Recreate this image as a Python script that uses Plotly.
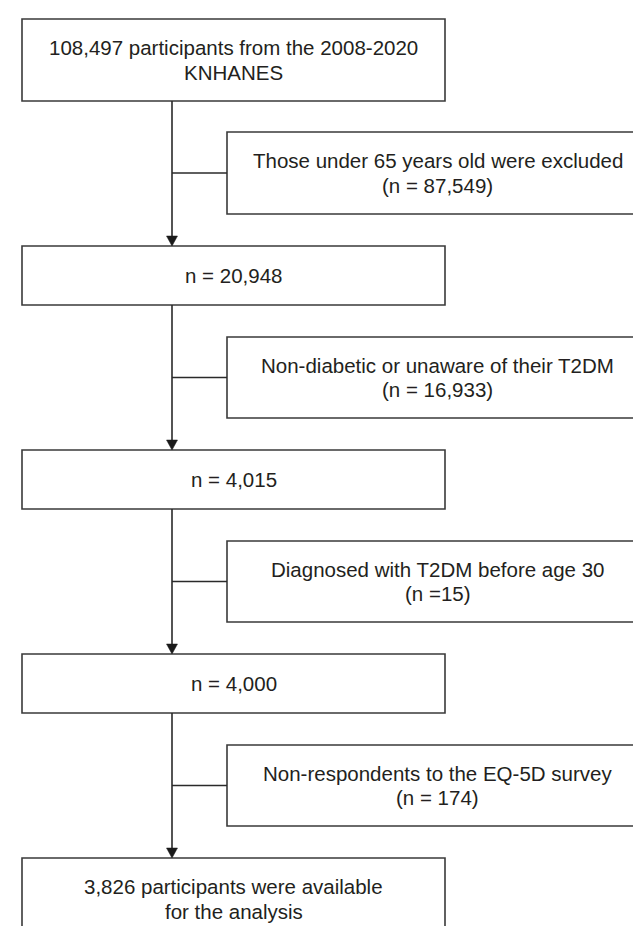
import plotly.graph_objects as go

# ---- chart content (flow of participants) ----
main_labels = [
    "108,497 participants from the 2008-2020\nKNHANES",
    "n = 20,948",
    "n = 4,015",
    "n = 4,000",
    "3,826 participants were available\nfor the analysis",
]
excluded_labels = [
    "Those under 65 years old were excluded\n(n = 87,549)",
    "Non-diabetic or unaware of their T2DM\n(n = 16,933)",
    "Diagnosed with T2DM before age 30\n(n =15)",
    "Non-respondents to the EQ-5D survey\n(n = 174)",
]

# ---- geometry / style (pixel space of the 641x926 canvas) ----
W, H = 641, 926
LEFT_X = (14, 437)
RIGHT_X = (219, 640)
SPINE_X = 164
LEFT_Y = [(11, 93), (238, 297), (442, 501), (646, 705), (850, 990)]
RIGHT_Y = [(124, 206), (329, 410), (533, 614), (737, 818)]
LINE_GAP = 24.5
FONT = dict(family="Liberation Sans, Arial, sans-serif", size=20.5, color="#231f20")
BOX_LINE = dict(color="#3a3a3a", width=1.6)
CONN_LINE = dict(color="#2a2a2a", width=1.6)
ARROW_W, ARROW_H = 5.5, 10

fig = go.Figure()
shapes = []
annotations = []


def add_text(lines, cx, cy):
    n = len(lines)
    for i, t in enumerate(lines):
        y = cy + (i - (n - 1) / 2) * LINE_GAP
        annotations.append(dict(
            x=cx, y=y, xref="x", yref="y", text=t, showarrow=False,
            xanchor="center", yanchor="middle", font=FONT,
        ))


# main boxes
for i, label in enumerate(main_labels):
    y0, y1 = LEFT_Y[i]
    shapes.append(dict(type="rect", xref="x", yref="y", x0=LEFT_X[0], x1=LEFT_X[1],
                       y0=y0, y1=y1, line=BOX_LINE, fillcolor="white", layer="above"))
    if i == len(main_labels) - 1:
        cy = y0 + 41
    else:
        cy = (y0 + y1) / 2
    add_text(label.split("\n"), (LEFT_X[0] + LEFT_X[1]) / 2, cy)

# exclusion boxes
for i, label in enumerate(excluded_labels):
    y0, y1 = RIGHT_Y[i]
    shapes.append(dict(type="rect", xref="x", yref="y", x0=RIGHT_X[0], x1=RIGHT_X[1],
                       y0=y0, y1=y1, line=BOX_LINE, fillcolor="white", layer="above"))
    cy = (y0 + y1) / 2
    add_text(label.split("\n"), (RIGHT_X[0] + RIGHT_X[1]) / 2, cy)
    # horizontal connector from spine
    shapes.append(dict(type="line", xref="x", yref="y", x0=SPINE_X, x1=RIGHT_X[0],
                       y0=cy, y1=cy, line=CONN_LINE))

# vertical spine segments with arrowheads
for i in range(len(main_labels) - 1):
    top = LEFT_Y[i][1]
    bot = LEFT_Y[i + 1][0]
    shapes.append(dict(type="line", xref="x", yref="y", x0=SPINE_X, x1=SPINE_X,
                       y0=top, y1=bot - ARROW_H + 1, line=CONN_LINE))
    path = (f"M {SPINE_X - ARROW_W},{bot - ARROW_H} L {SPINE_X + ARROW_W},{bot - ARROW_H} "
            f"L {SPINE_X},{bot} Z")
    shapes.append(dict(type="path", xref="x", yref="y", path=path,
                       fillcolor="#1a1a1a", line=dict(color="#1a1a1a", width=0.5)))

fig.update_layout(
    width=W, height=H,
    margin=dict(l=0, r=0, t=0, b=0),
    paper_bgcolor="white", plot_bgcolor="white",
    xaxis=dict(range=[0, W], visible=False, fixedrange=True),
    yaxis=dict(range=[H, 0], visible=False, fixedrange=True),
    shapes=shapes, annotations=annotations, showlegend=False,
)

fig.write_html("out.html")
